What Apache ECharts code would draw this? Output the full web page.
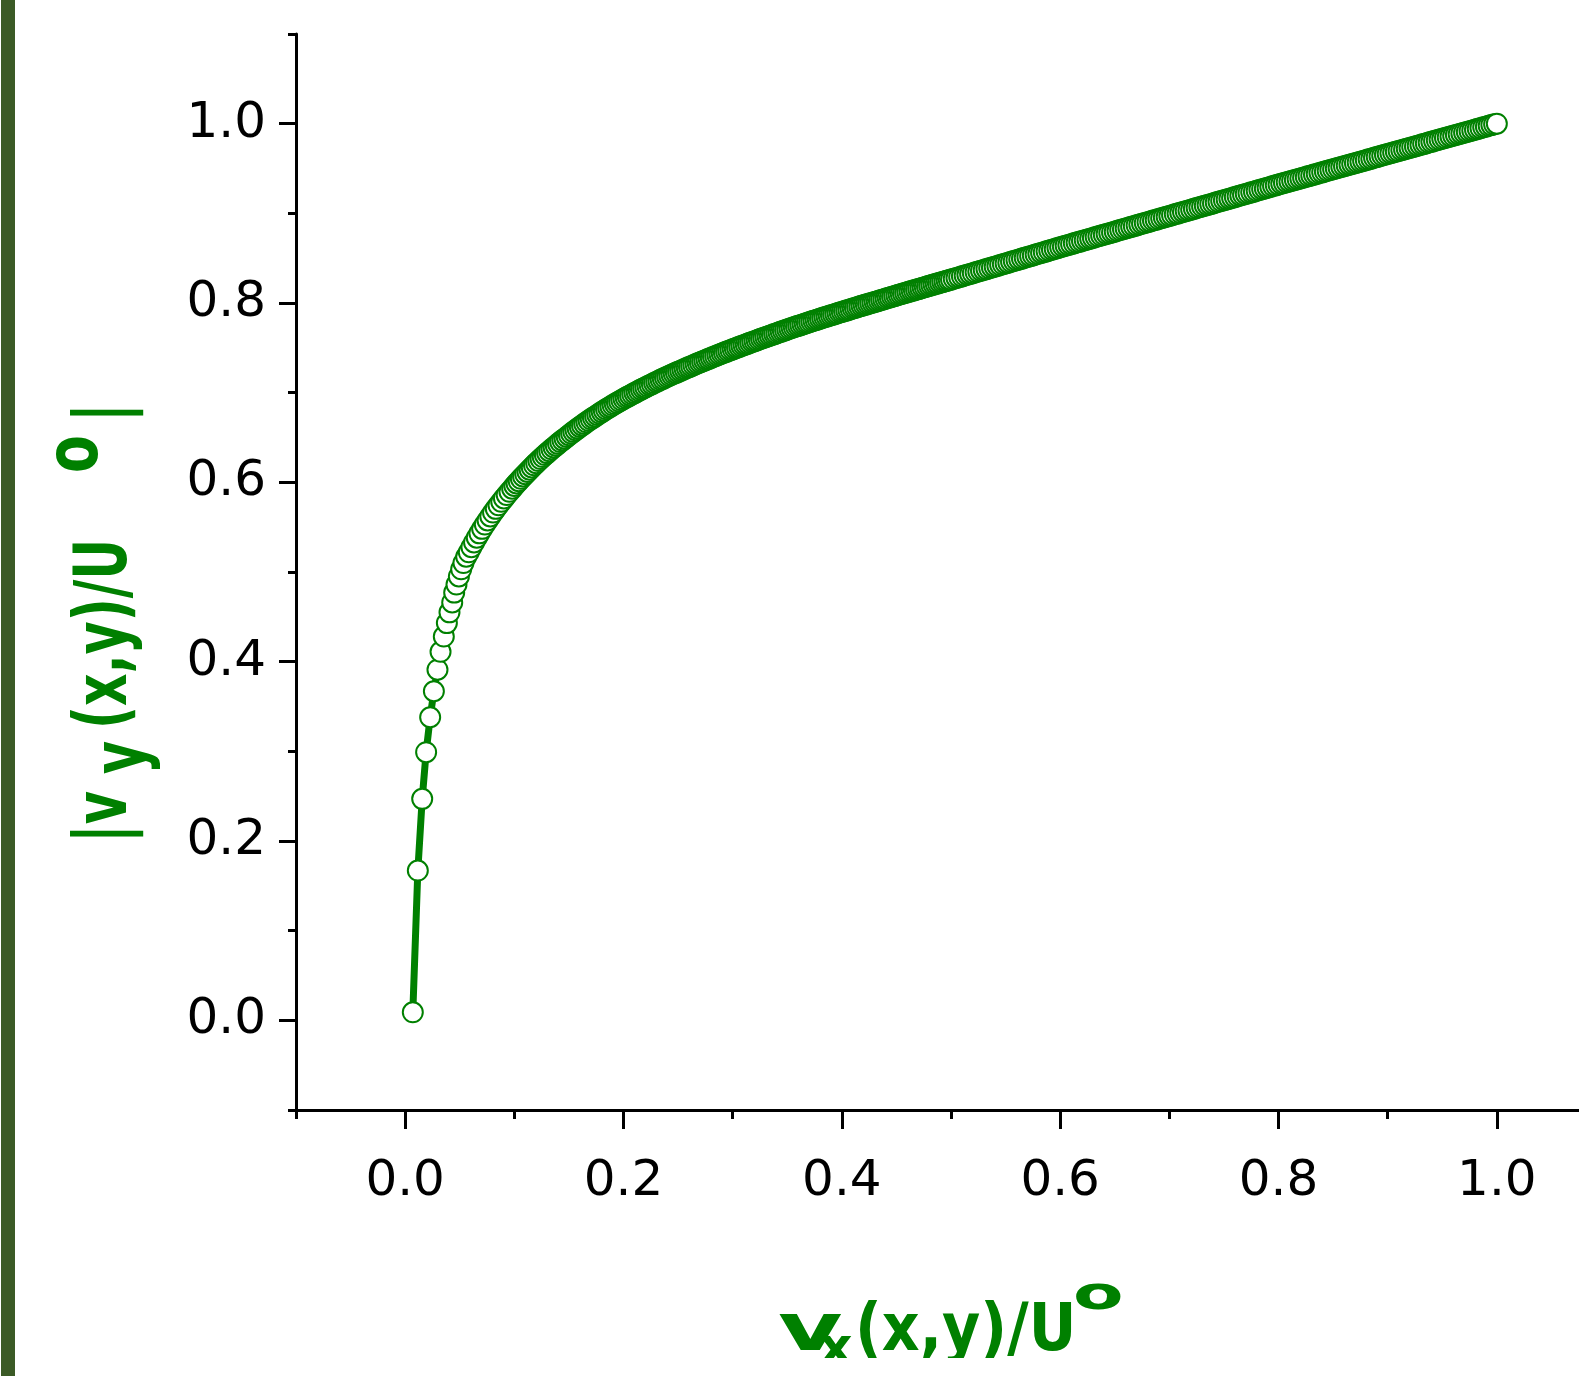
<!DOCTYPE html>
<html>
<head>
<meta charset="utf-8">
<script src="https://cdn.jsdelivr.net/npm/echarts@6/dist/echarts.min.js"></script>
<style>
html,body{margin:0;padding:0;background:#fff;}
#chart{width:1579px;height:1376px;}
</style>
</head>
<body>
<div id="chart"></div>
<script>
// v_x(x,y)/U^o values
const vx = [
  0.0070,0.0116,0.0156,0.0192,0.0229,0.0263,0.0296,0.0324,0.0354,0.0382,
  0.0406,0.0431,0.0449,0.0470,0.0492,0.0513,0.0534,0.0559,0.0583,
  0.0607,0.0631,0.0656,0.0680,0.0705,0.0730,0.0755,0.0780,0.0805,0.0830,
  0.0855,0.0880,0.0905,0.0930,0.0955,0.0980,
  0.100,0.102,0.104,0.106,0.108,0.110,0.112,0.114,0.116,0.118,
  0.120,0.122,0.124,0.126,0.128,0.130,0.132,0.134,0.136,0.138,
  0.140,0.142,0.144,0.146,0.148,0.150,0.152,0.154,0.156,0.158,
  0.160,0.162,0.164,0.166,0.168,0.170,0.172,0.174,0.176,0.178,
  0.180,0.182,0.184,0.186,0.188,0.190,0.192,0.194,0.196,0.198,
  0.200,0.202,0.204,0.206,0.208,0.210,0.212,0.214,0.216,0.218,
  0.220,0.222,0.224,0.226,0.228,0.230,0.232,0.234,0.236,0.238,
  0.240,0.242,0.244,0.246,0.248,0.250,0.252,0.254,0.256,0.258,
  0.260,0.262,0.264,0.266,0.268,0.270,0.272,0.274,0.276,0.278,
  0.280,0.282,0.284,0.286,0.288,0.290,0.292,0.294,0.296,0.298,
  0.300,0.302,0.304,0.306,0.308,0.310,0.312,0.314,0.316,0.318,
  0.320,0.322,0.324,0.326,0.328,0.330,0.332,0.334,0.336,0.338,
  0.340,0.342,0.344,0.346,0.348,0.350,0.352,0.354,0.356,0.358,
  0.360,0.362,0.364,0.366,0.368,0.370,0.372,0.374,0.376,0.378,
  0.380,0.382,0.384,0.386,0.388,0.390,0.392,0.394,0.396,0.398,
  0.400,0.402,0.404,0.406,0.408,0.410,0.412,0.414,0.416,0.418,
  0.420,0.422,0.424,0.426,0.428,0.430,0.432,0.434,0.436,0.438,
  0.440,0.442,0.444,0.446,0.448,0.450,0.452,0.454,0.456,0.458,
  0.460,0.462,0.464,0.466,0.468,0.470,0.472,0.474,0.476,0.478,
  0.480,0.482,0.484,0.486,0.488,0.490,0.492,0.494,0.496,0.498,
  0.5000,0.5025,0.5050,0.5075,0.5100,0.5125,0.5150,0.5175,
  0.5200,0.5225,0.5250,0.5275,0.5300,0.5325,0.5350,0.5375,
  0.5400,0.5425,0.5450,0.5475,0.5500,0.5525,0.5550,0.5575,
  0.5600,0.5625,0.5650,0.5675,0.5700,0.5725,0.5750,0.5775,
  0.5800,0.5825,0.5850,0.5875,0.5900,0.5925,0.5950,0.5975,
  0.6000,0.6025,0.6050,0.6075,0.6100,0.6125,0.6150,0.6175,
  0.6200,0.6225,0.6250,0.6275,0.6300,0.6325,0.6350,0.6375,
  0.6400,0.6425,0.6450,0.6475,0.6500,0.6525,0.6550,0.6575,
  0.6600,0.6625,0.6650,0.6675,0.6700,0.6725,0.6750,0.6775,
  0.6800,0.6825,0.6850,0.6875,0.6900,0.6925,0.6950,0.6975,
  0.7000,0.7025,0.7050,0.7075,0.7100,0.7125,0.7150,0.7175,
  0.7200,0.7225,0.7250,0.7275,0.7300,0.7325,0.7350,0.7375,
  0.7400,0.7425,0.7450,0.7475,0.7500,0.7525,0.7550,0.7575,
  0.7600,0.7625,0.7650,0.7675,0.7700,0.7725,0.7750,0.7775,
  0.7800,0.7825,0.7850,0.7875,0.7900,0.7925,0.7950,0.7975,
  0.8000,0.8025,0.8050,0.8075,0.8100,0.8125,0.8150,0.8175,
  0.8200,0.8225,0.8250,0.8275,0.8300,0.8325,0.8350,0.8375,
  0.8400,0.8425,0.8450,0.8475,0.8500,0.8525,0.8550,0.8575,
  0.8600,0.8625,0.8650,0.8675,0.8700,0.8725,0.8750,0.8775,
  0.8800,0.8825,0.8850,0.8875,0.8900,0.8925,0.8950,0.8975,
  0.9000,0.9025,0.9050,0.9075,0.9100,0.9125,0.9150,0.9175,
  0.9200,0.9225,0.9250,0.9275,0.9300,0.9325,0.9350,0.9375,
  0.9400,0.9425,0.9450,0.9475,0.9500,0.9525,0.9550,0.9575,
  0.9600,0.9625,0.9650,0.9675,0.9700,0.9725,0.9750,0.9775,
  0.9800,0.9825,0.9850,0.9875,0.9900,0.9925,0.9950,0.9975,
  1.0000
];
// |v_y(x,y)/U^o| values
const vy = [
  0.009,0.167,0.247,0.299,0.338,0.367,0.391,0.411,0.428,0.443,
  0.455,0.466,0.477,0.486,0.495,0.503,0.510,0.517,0.522,
  0.5277,0.5330,0.5383,0.5431,0.5481,0.5529,0.5575,0.5620,0.5663,0.5704,
  0.5744,0.5783,0.5821,0.5858,0.5894,0.5929,
  0.5960,0.5987,0.6013,0.6039,0.6065,0.6091,0.6116,0.6141,0.6166,0.6190,
  0.6214,0.6237,0.6260,0.6282,0.6304,0.6326,0.6347,0.6368,0.6389,0.6409,
  0.6429,0.6449,0.6468,0.6487,0.6506,0.6525,0.6544,0.6563,0.6581,0.6599,
  0.6617,0.6635,0.6652,0.6669,0.6686,0.6703,0.6719,0.6735,0.6751,0.6767,
  0.6783,0.6799,0.6814,0.6829,0.6844,0.6859,0.6873,0.6887,0.6901,0.6915,
  0.6929,0.6943,0.6956,0.6969,0.6982,0.6995,0.7008,0.7021,0.7034,0.7047,
  0.7059,0.7071,0.7083,0.7095,0.7107,0.7119,0.7131,0.7143,0.7154,0.7166,
  0.7177,0.7188,0.7199,0.7210,0.7221,0.7232,0.7243,0.7254,0.7264,0.7275,
  0.7285,0.7296,0.7306,0.7317,0.7327,0.7337,0.7347,0.7357,0.7367,0.7377,
  0.7387,0.7397,0.7407,0.7417,0.7426,0.7436,0.7445,0.7455,0.7464,0.7474,
  0.7483,0.7493,0.7502,0.7511,0.7520,0.7529,0.7538,0.7547,0.7556,0.7565,
  0.7574,0.7583,0.7592,0.7601,0.7610,0.7619,0.7627,0.7636,0.7644,0.7653,
  0.7661,0.7670,0.7678,0.7687,0.7695,0.7704,0.7712,0.7721,0.7729,0.7737,
  0.7745,0.7753,0.7761,0.7769,0.7777,0.7785,0.7793,0.7801,0.7809,0.7817,
  0.7825,0.7833,0.7840,0.7848,0.7855,0.7863,0.7870,0.7878,0.7885,0.7893,
  0.7900,0.7908,0.7915,0.7923,0.7930,0.7938,0.7945,0.7953,0.7960,0.7968,
  0.7975,0.7982,0.7989,0.7997,0.8004,0.8011,0.8018,0.8026,0.8033,0.8040,
  0.8047,0.8055,0.8062,0.8069,0.8076,0.8084,0.8091,0.8098,0.8105,0.8112,
  0.8119,0.8127,0.8134,0.8141,0.8148,0.8155,0.8162,0.8170,0.8177,0.8184,
  0.8191,0.8198,0.8205,0.8212,0.8219,0.8226,0.8233,0.8240,0.8247,0.8254,
  0.8261,0.8270,0.8279,0.8288,0.8297,0.8306,0.8315,0.8324,
  0.8333,0.8342,0.8351,0.8360,0.8369,0.8378,0.8387,0.8396,
  0.8405,0.8414,0.8423,0.8432,0.8441,0.8450,0.8459,0.8468,
  0.8477,0.8486,0.8495,0.8504,0.8513,0.8522,0.8531,0.8540,
  0.8549,0.8558,0.8567,0.8576,0.8585,0.8594,0.8603,0.8612,
  0.8621,0.8630,0.8639,0.8647,0.8656,0.8665,0.8674,0.8682,
  0.8691,0.8700,0.8709,0.8717,0.8726,0.8735,0.8744,0.8752,
  0.8761,0.8770,0.8779,0.8787,0.8796,0.8805,0.8814,0.8822,
  0.8831,0.8840,0.8849,0.8857,0.8866,0.8875,0.8884,0.8892,
  0.8901,0.8910,0.8919,0.8927,0.8936,0.8945,0.8954,0.8962,
  0.8971,0.8980,0.8989,0.8997,0.9006,0.9015,0.9024,0.9032,
  0.9041,0.9050,0.9059,0.9067,0.9076,0.9085,0.9094,0.9102,
  0.9111,0.9120,0.9129,0.9137,0.9146,0.9155,0.9164,0.9172,
  0.9181,0.9190,0.9199,0.9207,0.9216,0.9225,0.9234,0.9242,
  0.9251,0.9260,0.9269,0.9277,0.9286,0.9295,0.9304,0.9312,
  0.9321,0.9330,0.9338,0.9347,0.9355,0.9364,0.9372,0.9381,
  0.9389,0.9398,0.9406,0.9415,0.9423,0.9432,0.9440,0.9449,
  0.9457,0.9466,0.9474,0.9483,0.9491,0.9500,0.9508,0.9517,
  0.9525,0.9534,0.9542,0.9551,0.9559,0.9568,0.9576,0.9585,
  0.9593,0.9602,0.9610,0.9619,0.9627,0.9636,0.9644,0.9653,
  0.9661,0.9670,0.9678,0.9687,0.9695,0.9704,0.9712,0.9721,
  0.9729,0.9738,0.9746,0.9755,0.9763,0.9772,0.9780,0.9789,
  0.9797,0.9806,0.9814,0.9823,0.9831,0.9840,0.9848,0.9857,
  0.9865,0.9874,0.9882,0.9891,0.9899,0.9908,0.9916,0.9925,
  0.9933,0.9942,0.9950,0.9959,0.9967,0.9976,0.9984,0.9993,
  1.0000
];
const xMajorTicks = [0, 0.2, 0.4, 0.6, 0.8, 1.0];
const xMinorTicks = [-0.1, 0.1, 0.3, 0.5, 0.7, 0.9, 1.1];
const yMajorTicks = [0, 0.2, 0.4, 0.6, 0.8, 1.0];
const yMinorTicks = [-0.1, 0.1, 0.3, 0.5, 0.7, 0.9, 1.1];

const GREEN = '#008000';
const AX = '#000000';
const chart = echarts.init(document.getElementById('chart'), null, {renderer: 'canvas'});

function mainAxis(extra) {
  return Object.assign({
    type: 'value', min: -0.1, max: 1.1, interval: 0.1,
    axisLine: {show: true, onZero: false, lineStyle: {color: AX, width: 3}},
    splitLine: {show: false},
    minorTick: {show: false}
  }, extra);
}

const titleFont = {fontFamily: '"DejaVu Sans", Verdana, sans-serif', fontWeight: 'bold'};
// middle-aligned text: baseline sits about 0.3 em below the anchor
function ytxt(text, baseX, y, size, sx, sy) {
  return {type: 'text', x: baseX - 0.28 * size * sy, y: y, rotation: Math.PI / 2, scaleX: sx, scaleY: sy, z: 10, silent: true,
    style: Object.assign({text: text, fontSize: size, fill: GREEN, align: 'left', verticalAlign: 'middle'}, titleFont)};
}
function xtxt(text, x, baseY, size, sx) {
  return {type: 'text', x: x, y: baseY - 0.346 * size, scaleX: sx, scaleY: 1, z: 10, silent: true,
    style: Object.assign({text: text, fontSize: size, fill: GREEN, align: 'left', verticalAlign: 'middle'}, titleFont)};
}
const labelFont = '"DejaVu Sans", "Liberation Sans", sans-serif';

chart.setOption({
  animation: false,
  backgroundColor: '#ffffff',
  grid: {left: 296, top: 34, width: 1310, height: 1076, containLabel: false, outerBoundsMode: 'none'},
  xAxis: [
    mainAxis({
      position: 'bottom',
      axisTick: {show: true, customValues: xMajorTicks, length: 19, lineStyle: {color: AX, width: 3}},
      axisLabel: {show: true, customValues: xMajorTicks, margin: 47, color: '#000',
        fontFamily: labelFont, fontSize: 50,
        formatter: v => Number(v).toFixed(1)}
    }),
    mainAxis({
      position: 'bottom', offset: 0,
      axisLine: {show: false, onZero: false},
      axisTick: {show: true, customValues: xMinorTicks, length: 9, lineStyle: {color: AX, width: 3}},
      axisLabel: {show: false}
    })
  ],
  yAxis: [
    mainAxis({
      position: 'left',
      axisTick: {show: true, customValues: yMajorTicks, length: 17, lineStyle: {color: AX, width: 3}},
      axisLabel: {show: true, customValues: yMajorTicks, margin: 30, color: '#000',
        fontFamily: labelFont, fontSize: 50, padding: [6, 0, 0, 0],
        formatter: v => Number(v).toFixed(1)}
    }),
    mainAxis({
      position: 'left', offset: 0,
      axisLine: {show: false, onZero: false},
      axisTick: {show: true, customValues: yMinorTicks, length: 8, lineStyle: {color: AX, width: 3}},
      axisLabel: {show: false}
    })
  ],
  series: [{
    type: 'line',
    xAxisIndex: 0, yAxisIndex: 0,
    data: vx.map((x, i) => [x, vy[i]]),
    symbol: 'emptyCircle',
    symbolSize: 20,
    showSymbol: true,
    showAllSymbol: true,
    silent: true,
    emphasis: {disabled: true},
    itemStyle: {color: GREEN, borderColor: GREEN, borderWidth: 2.4},
    lineStyle: {color: GREEN, width: 7},
    z: 5
  }],
  graphic: [
    {type: 'rect', shape: {x: 1, y: 0, width: 14, height: 1376}, style: {fill: '#3b5a26'}, z: 1, silent: true},
    // y-axis title: |v_y (x,y)/U^o|
    ytxt('|v', 127, 843, 58, 0.88, 1.26),
    ytxt('y', 145, 774, 58, 0.88, 1.26),
    ytxt('(x,y)/U', 127, 729, 58, 0.87, 1.26),
    ytxt('o', 98, 473, 58, 0.95, 1.26),
    ytxt('|', 127, 422, 58, 0.88, 1.26),
    // x-axis title: v_x(x,y)/U^o
    xtxt('v', 778, 1356, 66, 1.5),
    xtxt('x', 819, 1368, 52, 1.0),
    xtxt('(x,y)/U', 855, 1356, 66, 0.89),
    xtxt('o', 1073, 1313, 46, 1.6),
    {type: 'rect', shape: {x: 18, y: 1358, width: 1561, height: 18}, style: {fill: '#ffffff'}, z: 20, silent: true}
  ]
});
</script>
</body>
</html>
